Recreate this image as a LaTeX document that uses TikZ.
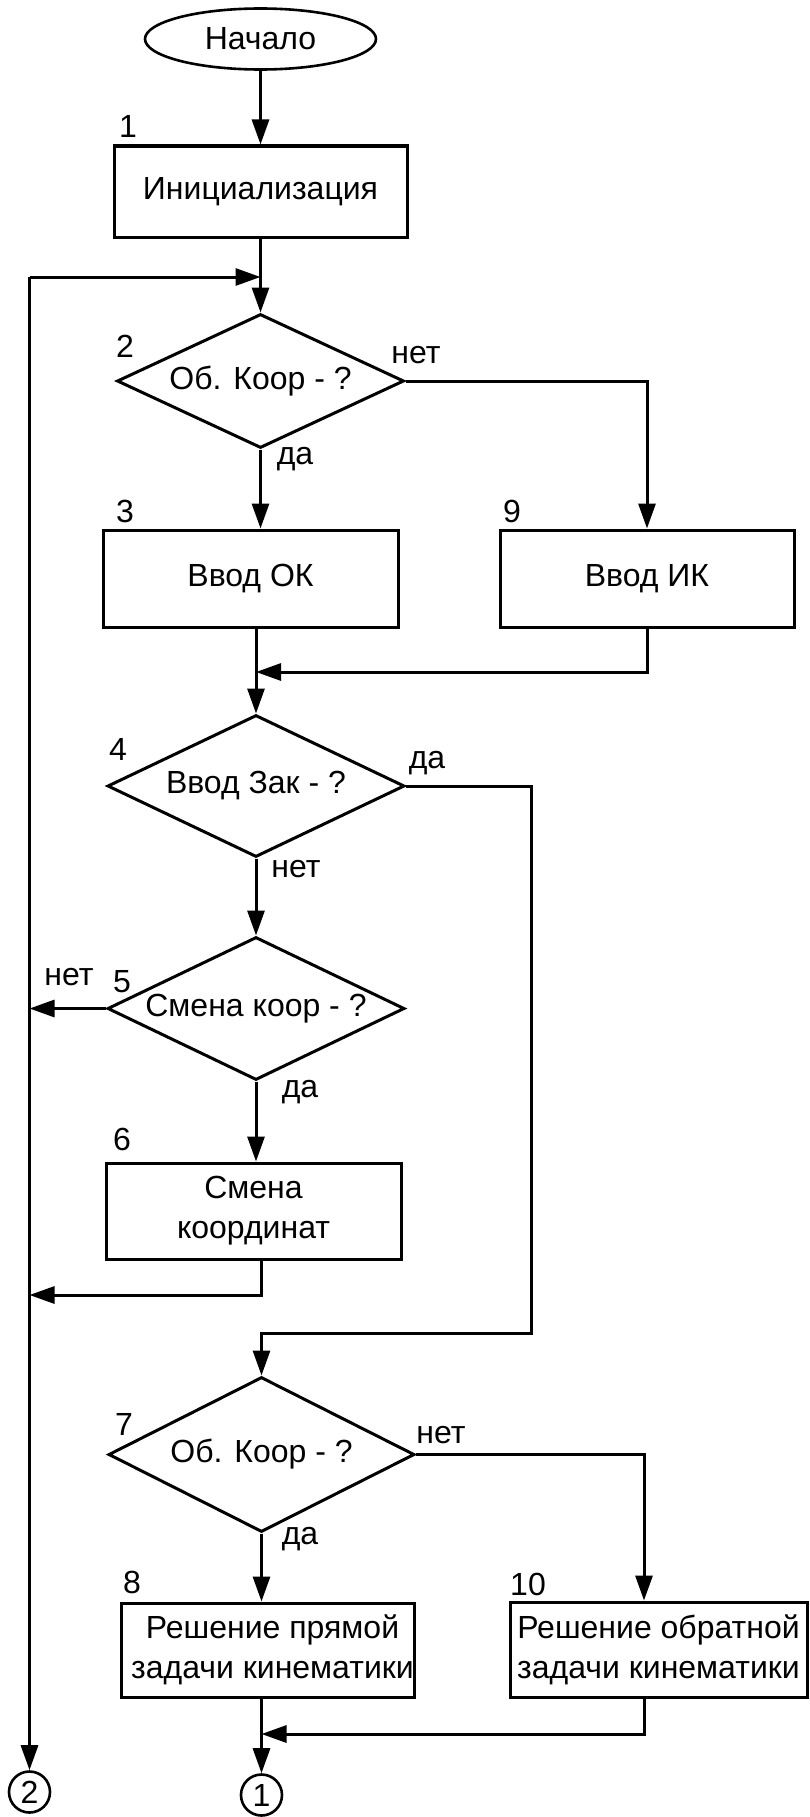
\documentclass[tikz,border=0pt]{standalone}
\usepackage{fontspec}
\setmainfont{Liberation Sans}
\usetikzlibrary{shapes.geometric,arrows.meta}
\begin{document}
\begin{tikzpicture}[x=1pt,y=-1pt, line width=3pt,
  every node/.style={font=\fontsize{32}{40}\selectfont, inner sep=0pt},
  blk/.style={draw, rectangle, align=center},
  dec/.style={draw, diamond, shape aspect=2.1},
  term/.style={draw, ellipse, line width=2.6pt},
  conn/.style={draw, circle, minimum size=41pt, line width=2.6pt},
  lbl/.style={anchor=base},
  arr/.style={-{Triangle[length=25pt,width=17pt]}}]
\useasboundingbox (0,0) rectangle (810,1817);

% blocks
\node[term, minimum width=231pt, minimum height=61pt] (start) at (260.5,39) {Начало};
\node[blk, minimum width=293pt, minimum height=91pt] (b1) at (260.5,191.5) {Инициализация};
\node[dec, minimum width=287pt, minimum height=134pt] (d2) at (260.5,381) {Об. Коор - ?};
\node[blk, minimum width=295pt, minimum height=97pt] (b3) at (250.5,578.5) {Ввод ОК};
\node[blk, minimum width=294pt, minimum height=97pt] (b9) at (647,578.5) {Ввод ИК};
\node[dec, minimum width=297pt, minimum height=142pt] (d4) at (256,786) {Ввод Зак - ?};
\node[dec, minimum width=297pt, minimum height=143pt] (d5) at (256,1008.5) {Смена коор - ?};
\node[blk, minimum width=295pt, minimum height=96pt] (b6) at (253.5,1211) {Смена\\координат};
\node[dec, minimum width=306pt, minimum height=155pt] (d7) at (261.5,1454.5) {Об. Коор - ?};
\node[blk, minimum width=293pt, minimum height=94pt] (b8) at (267.5,1650) {\hspace*{10pt}Решение прямой\\\hspace*{10pt}задачи кинематики};
\node[blk, minimum width=297pt, minimum height=95pt] (b10) at (658.5,1649.5) {Решение обратной\\задачи кинематики};
\node[conn] (c1) at (261.5,1795) {1};
\node[conn] (c2) at (29.5,1792) {2};

% numbers
\node[lbl] (n1) at (128,138) {1};
\node[lbl] (n2) at (125,357) {2};
\node[lbl] (n3) at (125,522) {3};
\node[lbl] (n9) at (512,522) {9};
\node[lbl] (n4) at (118,760) {4};
\node[lbl] (n5) at (122,992) {5};
\node[lbl] (n6) at (122,1150) {6};
\node[lbl] (n7) at (124,1435) {7};
\node[lbl] (n8) at (132,1593) {8};
\node[lbl] (n10) at (528,1595) {10};

% yes / no labels
\node[lbl] (t2n) at (416,363) {нет};
\node[lbl] (t2y) at (295,464) {да};
\node[lbl] (t4y) at (427,768) {да};
\node[lbl] (t4n) at (296,877) {нет};
\node[lbl] (t5n) at (69,985) {нет};
\node[lbl] (t5y) at (300,1097) {да};
\node[lbl] (t7n) at (441,1443) {нет};
\node[lbl] (t7y) at (300,1544) {да};

% junction points
\coordinate (jT) at (260.5,277);
\coordinate (jL) at (29.5,277);
\coordinate (j39) at (256,672);
\coordinate (r4) at (531,1333);
\coordinate (j6) at (261,1295);
\coordinate (r7) at (644,1454.5);
\coordinate (j810) at (261.5,1734);

% connectors
\draw[arr] (start.south) -- (b1.north);
\draw[arr] (b1.south) -- (d2.north);
\draw[arr] (jL) -- (jT);
\draw[arr] (jL) -- (c2.north);
\draw[arr] (d2.south) -- (d2.south |- b3.north);
\draw[arr] (d2.east) -| (b9.north);
\draw[arr] (b9.south) |- (j39);
\draw[arr] (d4.north |- b3.south) -- (d4.north);
\draw[arr] (d4.east) -| (r4) -| (d7.north);
\draw[arr] (d4.south) -- (d5.north);
\draw[arr] (d5.west) -- (d5.west -| jL);
\draw[arr] (d5.south) -- (d5.south |- b6.north);
\draw[arr] (j6 |- b6.south) -- (j6) -- (j6 -| jL);
\draw[arr] (d7.east) -- (r7) -- (r7 |- b10.north);
\draw[arr] (d7.south) -- (d7.south |- b8.north);
\draw[arr] (r7 |- b10.south) |- (j810);
\draw[arr] (c1.north |- b8.south) -- (c1.north);
\end{tikzpicture}
\end{document}
